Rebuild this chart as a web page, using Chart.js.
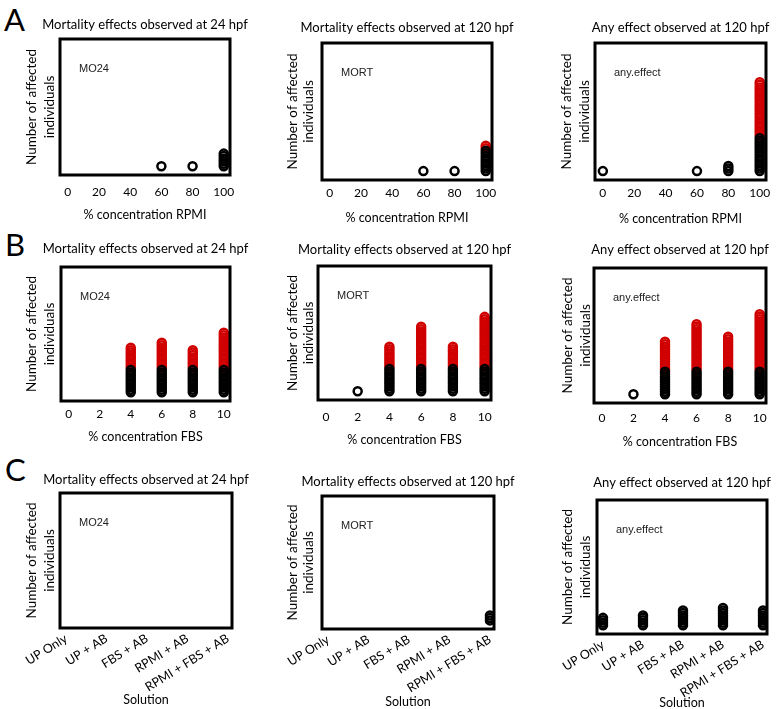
<!DOCTYPE html>
<html>
<head>
<meta charset="utf-8">
<script src="https://cdn.jsdelivr.net/npm/chart.js@4"></script>
<style>
  html, body { margin: 0; padding: 0; background: #fff; overflow: hidden; }
  #fig { position: relative; width: 776px; height: 709px; overflow: hidden; }
  #fig canvas { position: absolute; }
  .letter { position: absolute; font-family: Lato, sans-serif; font-size: 31px; line-height: 1; color: #000; }
</style>
</head>
<body>
<div id="fig">
  <div class="letter" style="left:4px;top:4px">A</div>
  <div class="letter" style="left:5px;top:229px">B</div>
  <div class="letter" style="left:5px;top:454px">C</div>
</div>
<script>
// categories
const rpmiLevels = ['0', '20', '40', '60', '80', '100'];
const fbsLevels = ['0', '2', '4', '6', '8', '10'];
const solutionLevels = ['UP Only', 'UP + AB', 'FBS + AB', 'RPMI + AB', 'RPMI + FBS + AB'];

// affected individuals per level : black dots, red dots stacked on top
const rpmiMO24Black = [0, 0, 0, 1, 1, 6];
const rpmiMO24Red   = [0, 0, 0, 0, 0, 0];
const rpmiMORTBlack = [0, 0, 0, 1, 1, 9];
const rpmiMORTRed   = [0, 0, 0, 0, 0, 2];
const rpmiAnyBlack  = [1, 0, 0, 1, 3, 14];
const rpmiAnyRed    = [0, 0, 0, 0, 0, 22];

const fbsMO24Black = [0, 0, 10, 10, 10, 10];
const fbsMO24Red   = [0, 0, 9, 11, 8, 15];
const fbsMORTBlack = [0, 1, 10, 10, 10, 10];
const fbsMORTRed   = [0, 0, 9, 17, 9, 21];
const fbsAnyBlack  = [0, 1, 10, 10, 10, 10];
const fbsAnyRed    = [0, 0, 12, 19, 14, 23];

const solMO24Black = [0, 0, 0, 0, 0];
const solMORTBlack = [0, 0, 0, 0, 3];
const solAnyBlack  = [4, 5, 7, 8, 7];
const solNoRed     = [0, 0, 0, 0, 0];

const titles = ['Mortality effects observed at 24 hpf', 'Mortality effects observed at 120 hpf', 'Any effect observed at 120 hpf'];
const tags = ['MO24', 'MORT', 'any.effect'];
const yTitle = ['Number of affected', 'individuals'];

// panel placement (px) : box = [left, top, right, bottom]
const panels = [
  { col: 0, row: 0, levels: rpmiLevels, black: rpmiMO24Black, red: rpmiMO24Red, xTitle: '% concentration RPMI', box: [60, 39, 230, 175], titleY: 25, tickY: 192, xTitleY: 215, yTitleX: 32 },
  { col: 1, row: 0, levels: rpmiLevels, black: rpmiMORTBlack, red: rpmiMORTRed, xTitle: '% concentration RPMI', box: [322, 43, 492, 180], titleY: 28, tickY: 193, xTitleY: 218, yTitleX: 293 },
  { col: 2, row: 0, levels: rpmiLevels, black: rpmiAnyBlack, red: rpmiAnyRed, xTitle: '% concentration RPMI', box: [595, 43, 766, 180], titleY: 28, tickY: 193, xTitleY: 219, yTitleX: 567 },
  { col: 0, row: 1, levels: fbsLevels, black: fbsMO24Black, red: fbsMO24Red, xTitle: '% concentration FBS', box: [61, 267, 230, 401], titleY: 249, tickY: 414, xTitleY: 437, yTitleX: 32 },
  { col: 1, row: 1, levels: fbsLevels, black: fbsMORTBlack, red: fbsMORTRed, xTitle: '% concentration FBS', box: [318, 266, 491, 400], titleY: 250, tickY: 417, xTitleY: 440, yTitleX: 293 },
  { col: 2, row: 1, levels: fbsLevels, black: fbsAnyBlack, red: fbsAnyRed, xTitle: '% concentration FBS', box: [594, 268, 766, 403], titleY: 250, tickY: 418, xTitleY: 442, yTitleX: 568 },
  { col: 0, row: 2, levels: solutionLevels, black: solMO24Black, red: solNoRed, xTitle: 'Solution', box: [60, 493, 232, 628], titleY: 480, tickY: 0, xTitleY: 700, yTitleX: 32 },
  { col: 1, row: 2, levels: solutionLevels, black: solMORTBlack, red: solNoRed, xTitle: 'Solution', box: [322, 496, 494, 629], titleY: 482, tickY: 0, xTitleY: 702, yTitleX: 293 },
  { col: 2, row: 2, levels: solutionLevels, black: solAnyBlack, red: solNoRed, xTitle: 'Solution', box: [597, 500, 767, 634], titleY: 483, tickY: 0, xTitleY: 703, yTitleX: 568 }
];

// one dot per individual, piled up over its level
function stack(counts, below) {
  const pts = [];
  counts.forEach((n, i) => {
    const base = below ? below[i] : 0;
    for (let k = 1; k <= n; k++) pts.push({ x: i, y: base + k });
  });
  return pts;
}

const framePlugin = {
  id: 'frame',
  afterDatasetsDraw(chart) {
    const { ctx, chartArea: a } = chart;
    ctx.save();
    ctx.lineWidth = 3;
    ctx.strokeStyle = '#000';
    ctx.strokeRect(a.left, a.top, a.right - a.left, a.bottom - a.top);
    ctx.restore();
  }
};

const tagPlugin = {
  id: 'tag',
  afterDraw(chart, args, opts) {
    const { ctx, chartArea: a } = chart;
    ctx.save();
    ctx.font = '11px "Liberation Sans", Arial, sans-serif';
    ctx.fillStyle = '#222';
    ctx.textBaseline = 'middle';
    ctx.fillText(opts.text, a.left + 19, a.top + 30);
    ctx.restore();
  }
};

// side margins of each canvas (left holds the y title, right mirrors it so the title is centred)
const YW = 40, TH = 32;
const TITLE_SIZE = 13, TITLE_LH = 15.6;
const fig = document.getElementById('fig');

panels.forEach(p => {
  const [l, t, r, b] = p.box;
  const rotated = p.row === 2;
  const XH = rotated ? 82 : 52;
  const cv = document.createElement('canvas');
  cv.width = (r - l) + 2 * YW;
  cv.height = (b - t) + TH + XH;
  cv.style.left = (l - YW) + 'px';
  cv.style.top = (t - TH) + 'px';
  fig.appendChild(cv);

  const titlePadTop = p.titleY - (t - TH) - TITLE_LH / 2;
  const yLine = p.col === 1 ? 15.5 : 18;
  const n = p.levels.length;
  const xmin = rotated ? -0.15 : -0.25;
  const xmax = rotated ? n - 1 + 0.1 : n - 1 + 0.2;

  new Chart(cv, {
    type: 'scatter',
    data: {
      datasets: [
        { data: stack(p.black), pointRadius: 4, pointBorderWidth: 2.5, pointBorderColor: '#000', pointBackgroundColor: 'rgba(0,0,0,0)' },
        { data: stack(p.red, p.black), pointRadius: 4, pointBorderWidth: 2.5, pointBorderColor: '#d10000', pointBackgroundColor: 'rgba(0,0,0,0)' }
      ]
    },
    options: {
      responsive: false,
      animation: false,
      events: [],
      layout: { padding: 0 },
      plugins: {
        legend: { display: false },
        tooltip: { enabled: false },
        title: {
          display: true, text: titles[p.col], color: '#000',
          font: { family: 'Lato', size: TITLE_SIZE, weight: 'normal', lineHeight: TITLE_LH + 'px' },
          padding: { top: titlePadTop, bottom: TH - TITLE_LH - titlePadTop }
        },
        tag: { text: tags[p.col] }
      },
      scales: {
        x: {
          type: 'linear', min: xmin, max: xmax,
          grid: { display: false, drawTicks: false },
          border: { display: false },
          afterBuildTicks: s => { s.ticks = p.levels.map((_, i) => ({ value: i })); },
          afterFit: s => { s.height = XH; },
          ticks: {
            autoSkip: false, color: '#000',
            font: { family: 'Lato', size: rotated ? 12.5 : 12 },
            padding: rotated ? 3 : p.tickY - b - 7,
            minRotation: rotated ? 32 : 0, maxRotation: rotated ? 32 : 0,
            callback: v => p.levels[v]
          },
          title: {
            display: true, text: p.xTitle, color: '#000',
            font: { family: 'Lato', size: 12.5, lineHeight: 1.2 },
            padding: { top: 0, bottom: Math.max(0, b + XH - 7.5 - p.xTitleY) }
          }
        },
        y: {
          min: -2.5, max: 51.5,
          grid: { display: false, drawTicks: false },
          border: { display: false },
          ticks: { display: false },
          afterFit: s => { s.width = YW; },
          title: {
            display: true, text: yTitle, color: '#000',
            font: { family: 'Lato', size: 13.5, lineHeight: yLine + 'px' },
            padding: { top: p.yTitleX - (l - YW) - yLine / 2, bottom: 0 }
          }
        },
        // empty right-hand axis, only there to balance the left margin
        yRight: {
          position: 'right', min: -2.5, max: 51.5,
          grid: { display: false, drawTicks: false },
          border: { display: false },
          ticks: { display: false },
          afterFit: s => { s.width = YW; }
        }
      }
    },
    plugins: [framePlugin, tagPlugin]
  });
});
</script>
</body>
</html>
